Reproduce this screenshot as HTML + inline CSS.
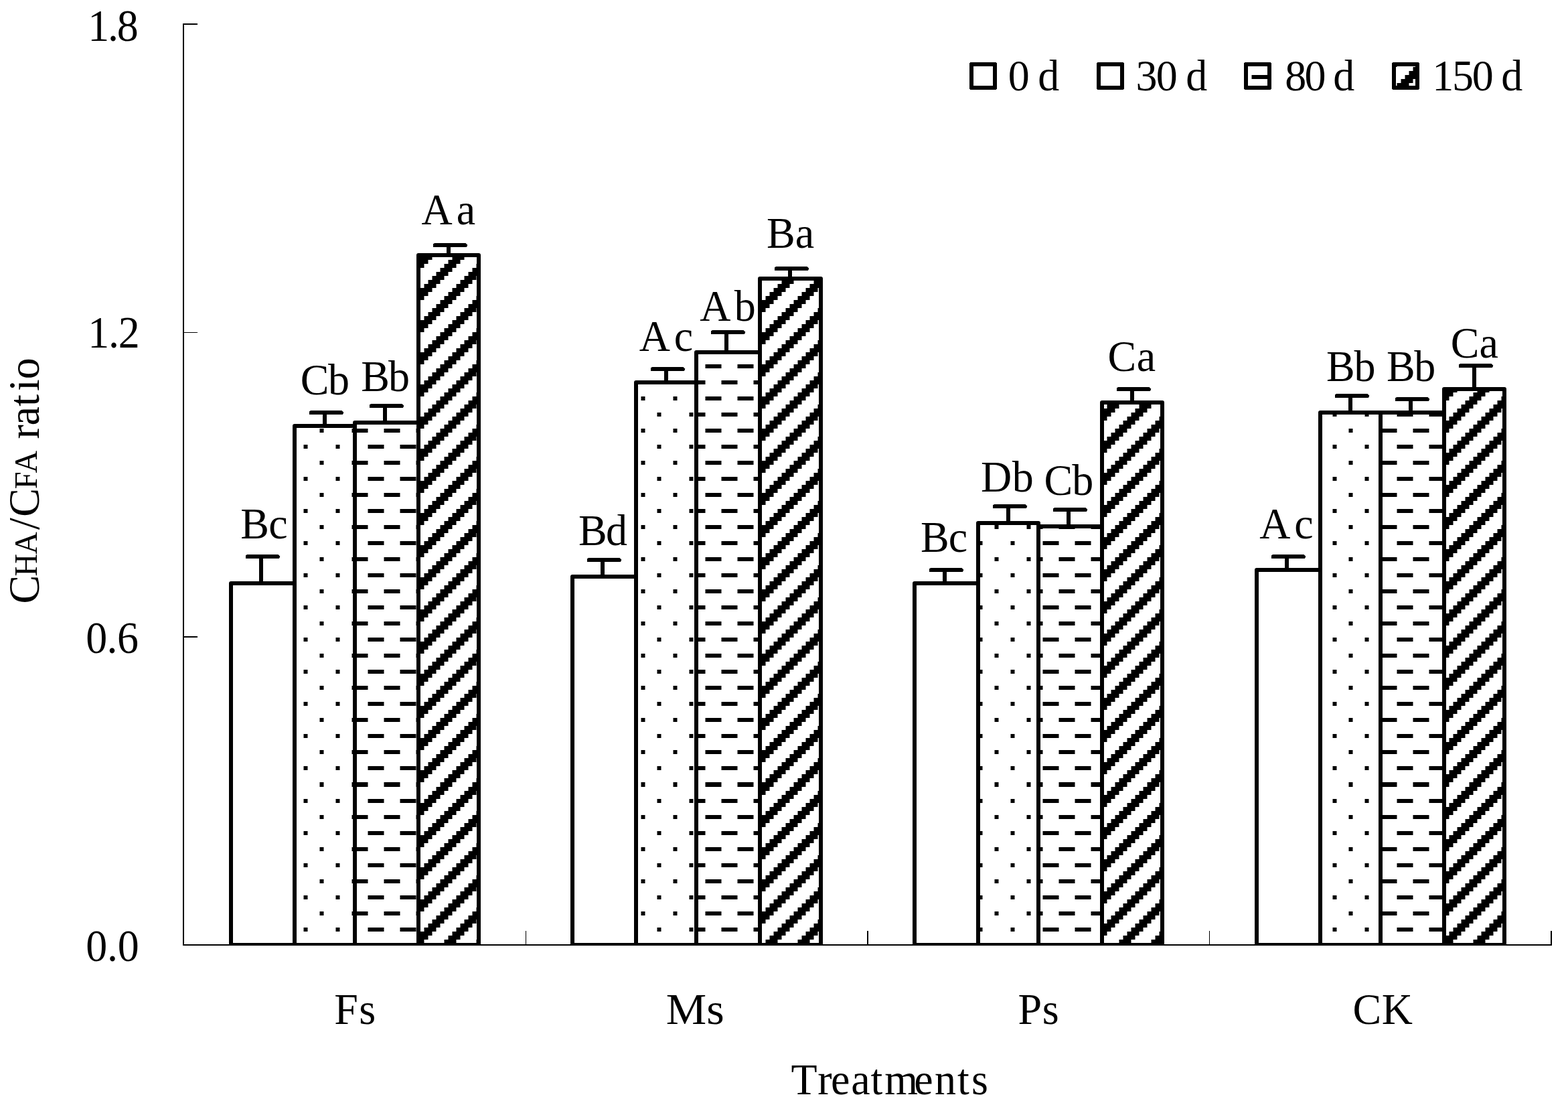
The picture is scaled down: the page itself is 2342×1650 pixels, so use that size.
<!DOCTYPE html>
<html lang="en"><head><meta charset="utf-8"><title>CHA/CFA ratio by treatment</title>
<style>
html,body{margin:0;padding:0;background:#fff;}
body{width:2342px;height:1650px;overflow:hidden;}
svg{display:block;}
text{font-family:"Liberation Serif", "DejaVu Serif", serif;font-size:66px;fill:#000;white-space:pre;}
.g{shape-rendering:crispEdges;}
</style></head><body>
<svg width="2342" height="1650" viewBox="0 0 2342 1650">
<defs>
<pattern id="pd00" patternUnits="userSpaceOnUse" x="3.5" y="4" width="48" height="48"><rect width="48" height="48" fill="#fff"/><path fill="#000" d="M18 36h6v6h-6zM42 12h6v6h-6z"/></pattern><pattern id="pd01" patternUnits="userSpaceOnUse" x="3.5" y="5" width="48" height="48"><rect width="48" height="48" fill="#fff"/><path fill="#000" d="M18 36h6v6h-6zM42 12h6v6h-6z"/></pattern><pattern id="pd10" patternUnits="userSpaceOnUse" x="4.5" y="4" width="48" height="48"><rect width="48" height="48" fill="#fff"/><path fill="#000" d="M18 36h6v6h-6zM42 12h6v6h-6z"/></pattern><pattern id="pd11" patternUnits="userSpaceOnUse" x="4.5" y="5" width="48" height="48"><rect width="48" height="48" fill="#fff"/><path fill="#000" d="M18 36h6v6h-6zM42 12h6v6h-6z"/></pattern>
<pattern id="ph00" patternUnits="userSpaceOnUse" x="3.5" y="4" width="48" height="48"><rect width="48" height="48" fill="#fff"/><path fill="#000" d="M18 36h24v6h-24zM42 12h6v6h-6zM0 12h18v6h-18z"/></pattern><pattern id="ph01" patternUnits="userSpaceOnUse" x="3.5" y="5" width="48" height="48"><rect width="48" height="48" fill="#fff"/><path fill="#000" d="M18 36h24v6h-24zM42 12h6v6h-6zM0 12h18v6h-18z"/></pattern><pattern id="ph10" patternUnits="userSpaceOnUse" x="4.5" y="4" width="48" height="48"><rect width="48" height="48" fill="#fff"/><path fill="#000" d="M18 36h24v6h-24zM42 12h6v6h-6zM0 12h18v6h-18z"/></pattern><pattern id="ph11" patternUnits="userSpaceOnUse" x="4.5" y="5" width="48" height="48"><rect width="48" height="48" fill="#fff"/><path fill="#000" d="M18 36h24v6h-24zM42 12h6v6h-6zM0 12h18v6h-18z"/></pattern>
<pattern id="pg00" patternUnits="userSpaceOnUse" x="3.5" y="4" width="48" height="48"><rect width="48" height="48" fill="#fff"/><path fill="#000" d="M0 0h12v6h-12zM42 0h6v6h-6zM0 6h6v6h-6zM36 6h12v6h-12zM30 12h18v6h-18zM24 18h18v6h-18zM18 24h18v6h-18zM12 30h18v6h-18zM6 36h18v6h-18zM0 42h18v6h-18z"/></pattern><pattern id="pg01" patternUnits="userSpaceOnUse" x="3.5" y="5" width="48" height="48"><rect width="48" height="48" fill="#fff"/><path fill="#000" d="M0 0h12v6h-12zM42 0h6v6h-6zM0 6h6v6h-6zM36 6h12v6h-12zM30 12h18v6h-18zM24 18h18v6h-18zM18 24h18v6h-18zM12 30h18v6h-18zM6 36h18v6h-18zM0 42h18v6h-18z"/></pattern><pattern id="pg10" patternUnits="userSpaceOnUse" x="4.5" y="4" width="48" height="48"><rect width="48" height="48" fill="#fff"/><path fill="#000" d="M0 0h12v6h-12zM42 0h6v6h-6zM0 6h6v6h-6zM36 6h12v6h-12zM30 12h18v6h-18zM24 18h18v6h-18zM18 24h18v6h-18zM12 30h18v6h-18zM6 36h18v6h-18zM0 42h18v6h-18z"/></pattern><pattern id="pg11" patternUnits="userSpaceOnUse" x="4.5" y="5" width="48" height="48"><rect width="48" height="48" fill="#fff"/><path fill="#000" d="M0 0h12v6h-12zM42 0h6v6h-6zM0 6h6v6h-6zM36 6h12v6h-12zM30 12h18v6h-18zM24 18h18v6h-18zM18 24h18v6h-18zM12 30h18v6h-18zM6 36h18v6h-18zM0 42h18v6h-18z"/></pattern>
</defs>
<rect width="2342" height="1650" fill="#fff"/>
<g class="g">
<rect x="343" y="869" width="99" height="543" fill="#fff"/>
<rect x="438" y="634" width="94" height="537" fill="url(#pd00)"/>
<rect x="438" y="1171" width="94" height="241" fill="url(#pd01)"/>
<rect x="528" y="629" width="99" height="542" fill="url(#ph00)"/>
<rect x="528" y="1171" width="99" height="241" fill="url(#ph01)"/>
<rect x="623" y="379" width="94" height="792" fill="url(#pg00)"/>
<rect x="623" y="1171" width="94" height="241" fill="url(#pg01)"/>
<rect x="342" y="1408" width="376" height="4" fill="#000"/>
<rect x="853" y="859" width="99" height="553" fill="#fff"/>
<rect x="948" y="569" width="94" height="602" fill="url(#pd00)"/>
<rect x="948" y="1171" width="94" height="241" fill="url(#pd01)"/>
<rect x="1038" y="524" width="99" height="647" fill="url(#ph00)"/>
<rect x="1038" y="1171" width="99" height="241" fill="url(#ph01)"/>
<rect x="1133" y="414" width="95" height="757" fill="url(#pg00)"/>
<rect x="1133" y="1171" width="95" height="241" fill="url(#pg01)"/>
<rect x="852" y="1408" width="377" height="4" fill="#000"/>
<rect x="1364" y="869" width="99" height="543" fill="#fff"/>
<rect x="1459" y="779" width="94" height="392" fill="url(#pd00)"/>
<rect x="1459" y="1171" width="94" height="241" fill="url(#pd01)"/>
<rect x="1549" y="784" width="99" height="387" fill="url(#ph00)"/>
<rect x="1549" y="1171" width="99" height="241" fill="url(#ph01)"/>
<rect x="1644" y="599" width="94" height="572" fill="url(#pg00)"/>
<rect x="1644" y="1171" width="94" height="241" fill="url(#pg01)"/>
<rect x="1363" y="1408" width="376" height="4" fill="#000"/>
<rect x="1875" y="849" width="99" height="563" fill="#fff"/>
<rect x="1970" y="614" width="94" height="557" fill="url(#pd10)"/>
<rect x="1970" y="1171" width="94" height="241" fill="url(#pd11)"/>
<rect x="2060" y="614" width="99" height="557" fill="url(#ph10)"/>
<rect x="2060" y="1171" width="99" height="241" fill="url(#ph11)"/>
<rect x="2155" y="579" width="94" height="592" fill="url(#pg10)"/>
<rect x="2155" y="1171" width="94" height="241" fill="url(#pg11)"/>
<rect x="1874" y="1408" width="376" height="4" fill="#000"/>
</g>
<g fill="none" stroke="#000" stroke-width="6" stroke-linejoin="round">
<path d="M345 1412V871H440V1412"/>
<path d="M440 1412V636H530V1412"/>
<path d="M530 1412V631H625V1412"/>
<path d="M625 1412V381H715V1412"/>
<path d="M855 1412V861H950V1412"/>
<path d="M950 1412V571H1040V1412"/>
<path d="M1040 1412V526H1135V1412"/>
<path d="M1135 1412V416H1226V1412"/>
<path d="M1366 1412V871H1461V1412"/>
<path d="M1461 1412V781H1551V1412"/>
<path d="M1551 1412V786H1646V1412"/>
<path d="M1646 1412V601H1736V1412"/>
<path d="M1877 1412V851H1972V1412"/>
<path d="M1972 1412V616H2062V1412"/>
<path d="M2062 1412V616H2157V1412"/>
<path d="M2157 1412V581H2247V1412"/>
</g>
<g class="g">
<rect x="273" y="35" width="2" height="1377" fill="#000"/>
<rect x="273" y="1410" width="2045" height="2" fill="#000"/>
<rect x="273" y="35" width="22" height="2" fill="#000"/>
<rect x="273" y="496" width="22" height="1" fill="#000"/>
<rect x="273" y="950" width="22" height="2" fill="#000"/>
<rect x="785" y="1390" width="1" height="21" fill="#000"/>
<rect x="1295" y="1390" width="2" height="21" fill="#000"/>
<rect x="1806" y="1390" width="1" height="21" fill="#000"/>
<rect x="2316" y="1390" width="2" height="21" fill="#000"/>
</g>
<g fill="#000">
<path d="M369.2 828L415.5 828L418 830.5L418 832.1L416.75 834L367 834L367 829.25Z"/>
<rect x="387" y="831" width="6" height="40"/>
<path d="M464.2 613L510.5 613L513 615.5L513 617.1L511.75 619L462 619L462 614.25Z"/>
<rect x="482" y="616" width="6" height="20"/>
<path d="M554.2 603L600.5 603L603 605.5L603 607.1L601.75 609L552 609L552 604.25Z"/>
<rect x="572" y="606" width="6" height="25"/>
<path d="M649.2 363L695.5 363L698 365.5L698 367.1L696.75 369L647 369L647 364.25Z"/>
<rect x="667" y="366" width="6" height="15"/>
<path d="M879.2 833L925.5 833L928 835.5L928 837.1L926.75 839L877 839L877 834.25Z"/>
<rect x="897" y="836" width="6" height="25"/>
<path d="M974.2 548L1020.5 548L1023 550.5L1023 552.1L1021.75 554L972 554L972 549.25Z"/>
<rect x="992" y="551" width="6" height="20"/>
<path d="M1064.2 493L1110.5 493L1113 495.5L1113 497.1L1111.75 499L1062 499L1062 494.25Z"/>
<rect x="1082" y="496" width="6" height="30"/>
<path d="M1159.2 398L1205.5 398L1208 400.5L1208 402.1L1206.75 404L1157 404L1157 399.25Z"/>
<rect x="1177" y="401" width="6" height="15"/>
<path d="M1390.2 848L1436.5 848L1439 850.5L1439 852.1L1437.75 854L1388 854L1388 849.25Z"/>
<rect x="1408" y="851" width="6" height="20"/>
<path d="M1485.2 753L1531.5 753L1534 755.5L1534 757.1L1532.75 759L1483 759L1483 754.25Z"/>
<rect x="1503" y="756" width="6" height="25"/>
<path d="M1575.2 758L1621.5 758L1624 760.5L1624 762.1L1622.75 764L1573 764L1573 759.25Z"/>
<rect x="1593" y="761" width="6" height="25"/>
<path d="M1670.2 578L1716.5 578L1719 580.5L1719 582.1L1717.75 584L1668 584L1668 579.25Z"/>
<rect x="1688" y="581" width="6" height="20"/>
<path d="M1901.2 828L1947.5 828L1950 830.5L1950 832.1L1948.75 834L1899 834L1899 829.25Z"/>
<rect x="1919" y="831" width="6" height="20"/>
<path d="M1996.2 588L2042.5 588L2045 590.5L2045 592.1L2043.75 594L1994 594L1994 589.25Z"/>
<rect x="2014" y="591" width="6" height="25"/>
<path d="M2086.2 593L2132.5 593L2135 595.5L2135 597.1L2133.75 599L2084 599L2084 594.25Z"/>
<rect x="2104" y="596" width="6" height="20"/>
<path d="M2181.2 543L2227.5 543L2230 545.5L2230 547.1L2228.75 549L2179 549L2179 544.25Z"/>
<rect x="2199" y="546" width="6" height="35"/>
</g>
<g class="g">
<rect x="1451" y="96" width="35" height="35" fill="#fff" stroke="#000" stroke-width="6" stroke-linejoin="round"/>
<rect x="1641" y="96" width="35" height="35" fill="url(#pd00)" stroke="#000" stroke-width="6" stroke-linejoin="round"/>
<rect x="1861" y="96" width="35" height="35" fill="url(#ph00)" stroke="#000" stroke-width="6" stroke-linejoin="round"/>
<rect x="2082" y="96" width="35" height="35" fill="url(#pg10)" stroke="#000" stroke-width="6" stroke-linejoin="round"/>
</g>
<text transform="translate(359.31,803.50) scale(0.97,1)" style="letter-spacing:-0.701px">Bc</text>
<text transform="translate(448.84,589.00) scale(0.97,1)" style="letter-spacing:-1.639px">Cb</text>
<text transform="translate(539.31,583.75) scale(0.97,1)" style="letter-spacing:-2.124px">Bb</text>
<text transform="translate(629.53,335.00) scale(0.97,1)" style="letter-spacing:6.186px">Aa</text>
<text transform="translate(864.06,813.50) scale(0.97,1)" style="letter-spacing:-1.835px">Bd</text>
<text transform="translate(954.78,523.75) scale(0.97,1)" style="letter-spacing:5.897px">Ac</text>
<text transform="translate(1045.28,478.75) scale(0.97,1)" style="letter-spacing:5.474px">Ab</text>
<text transform="translate(1145.06,370.00) scale(0.97,1)" style="letter-spacing:0.103px">Ba</text>
<text transform="translate(1375.06,823.75) scale(0.97,1)" style="letter-spacing:-0.959px">Bc</text>
<text transform="translate(1465.06,733.75) scale(0.97,1)" style="letter-spacing:0.546px">Db</text>
<text transform="translate(1559.59,738.75) scale(0.97,1)" style="letter-spacing:-1.124px">Cb</text>
<text transform="translate(1654.59,553.75) scale(0.97,1)" style="letter-spacing:0.588px">Ca</text>
<text transform="translate(1881.28,803.75) scale(0.97,1)" style="letter-spacing:5.897px">Ac</text>
<text transform="translate(1981.06,568.75) scale(0.97,1)" style="letter-spacing:-1.351px">Bb</text>
<text transform="translate(2071.06,568.75) scale(0.97,1)" style="letter-spacing:-1.608px">Bb</text>
<text transform="translate(2166.84,533.75) scale(0.97,1)" style="letter-spacing:0.072px">Ca</text>
<text transform="translate(131.36,60.50) scale(0.94,1)" style="letter-spacing:-2.362px;font-size:68px">1.8</text>
<text transform="translate(131.36,519.00) scale(0.94,1)" style="letter-spacing:-1.330px;font-size:68px">1.2</text>
<text transform="translate(128.18,974.50) scale(0.94,1)" style="letter-spacing:-0.638px;font-size:68px">0.6</text>
<text transform="translate(128.18,1434.50) scale(0.94,1)" style="letter-spacing:-0.138px;font-size:68px">0.0</text>
<text transform="translate(499.31,1528.80) scale(0.97,1)" style="letter-spacing:1.278px">Fs</text>
<text transform="translate(994.74,1528.80) scale(1.03,1)" style="letter-spacing:0.097px">Ms</text>
<text transform="translate(1520.56,1528.80) scale(0.97,1)" style="letter-spacing:0.660px">Ps</text>
<text transform="translate(2020.59,1528.50) scale(0.97,1)" style="letter-spacing:0.402px">CK</text>
<text transform="translate(1505.76,135.20) scale(0.97,1)" style="letter-spacing:-1.856px">0 d</text>
<text transform="translate(1696.59,135.20) scale(0.97,1)" style="letter-spacing:-1.869px">30 d</text>
<text transform="translate(1919.16,135.20) scale(0.97,1)" style="letter-spacing:-2.753px">80 d</text>
<text transform="translate(2139.18,135.20) scale(0.97,1)" style="letter-spacing:-2.304px">150 d</text>
<text transform="translate(0,1634.00) scale(0.97,1)" x="1218.07 1259.00 1279.34 1310.68 1340.65 1362.09 1407.59 1439.10 1474.26 1495.87">Treatments</text>
<text transform="translate(57.6,899) rotate(-90) scale(0.97,1)"><tspan x="-2.59">C</tspan><tspan x="39.62 73.40" dy="-2.3" style="font-size:48px">HA</tspan><tspan x="111.44 131.23" dy="2.3">/C</tspan><tspan x="174.05 198.35" dy="-2.3" style="font-size:48px">FA</tspan><tspan x="235.05 250.96 271.61 301.27 324.88 342.95" dy="2.3"> ratio</tspan></text>
</svg>
</body></html>
